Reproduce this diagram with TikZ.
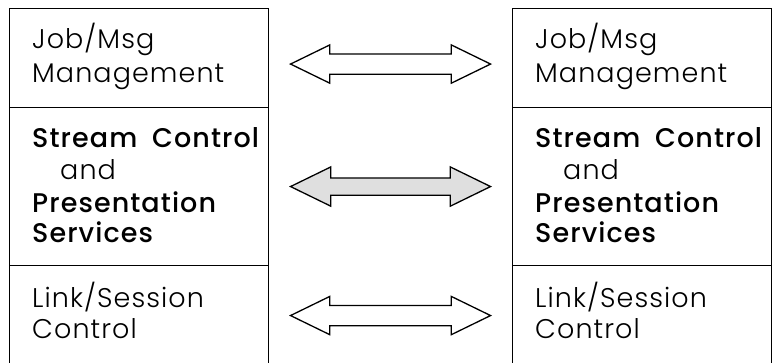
\documentclass[tikz,border=0pt]{standalone}
\usepackage{fontspec}
\setmainfont{Poppins}[UprightFont={* Light},BoldFont={* Medium},LetterSpace=4]
\usetikzlibrary{shapes.arrows,calc}
\tikzset{
  layer/.style={draw=black, line width=1.1pt, minimum width=259pt, anchor=north west, inner sep=0pt},
  txt/.style={anchor=base west, inner sep=0pt, font=\fontsize{27}{32}\selectfont},
  btxt/.style={txt, font=\fontsize{27}{32}\selectfont\bfseries},
  flow/.style={double arrow, draw=black, line width=1.3pt, minimum height=200pt,
    double arrow tip angle=52, double arrow head extend=9pt, inner sep=9.5pt, fill=white},
}
\begin{document}
\begin{tikzpicture}[x=1pt,y=-1pt]
\useasboundingbox (0,0) rectangle (772,362);
% left stack
\node[layer, minimum height=99pt] (L1) at (9,8) {};
\node[layer, minimum height=158pt] (L2) at (9,107) {};
\node[layer, minimum height=102pt] (L3) at (9,265) {};
% right stack
\node[layer, minimum height=99pt] (R1) at (512,8) {};
\node[layer, minimum height=158pt] (R2) at (512,107) {};
\node[layer, minimum height=102pt] (R3) at (512,265) {};
% texts
\foreach \s in {L,R}{
  \node[txt]  (\s t1) at ($(\s1.north west)+(23,40)$) {Job/Msg};
  \node[txt]  (\s t2) at ($(\s1.north west)+(23,74)$) {Management};
  \node[btxt] (\s t3) at ($(\s2.north west)+(23,40)$) {Stream\hspace{0.55em}Control};
  \node[txt]  (\s t4) at ($(\s2.north west)+(51,72)$) {and};
  \node[btxt] (\s t5) at ($(\s2.north west)+(23,105)$) {Presentation};
  \node[btxt] (\s t6) at ($(\s2.north west)+(23,135)$) {Services};
  \node[txt]  (\s t7) at ($(\s3.north west)+(23,42)$) {Link/Session};
  \node[txt]  (\s t8) at ($(\s3.north west)+(23,73)$) {Control};
}
% arrows
\node[flow] (A1) at ($(L1.east)!0.5!(R1.west)+(0,6)$) {};
\node[flow, inner sep=8pt, double arrow head extend=11pt, fill=gray!25] (A2) at ($(L2.east)!0.5!(R2.west)$) {};
\node[flow] (A3) at ($(L3.east)!0.5!(R3.west)+(0,-1)$) {};
\end{tikzpicture}
\end{document}
